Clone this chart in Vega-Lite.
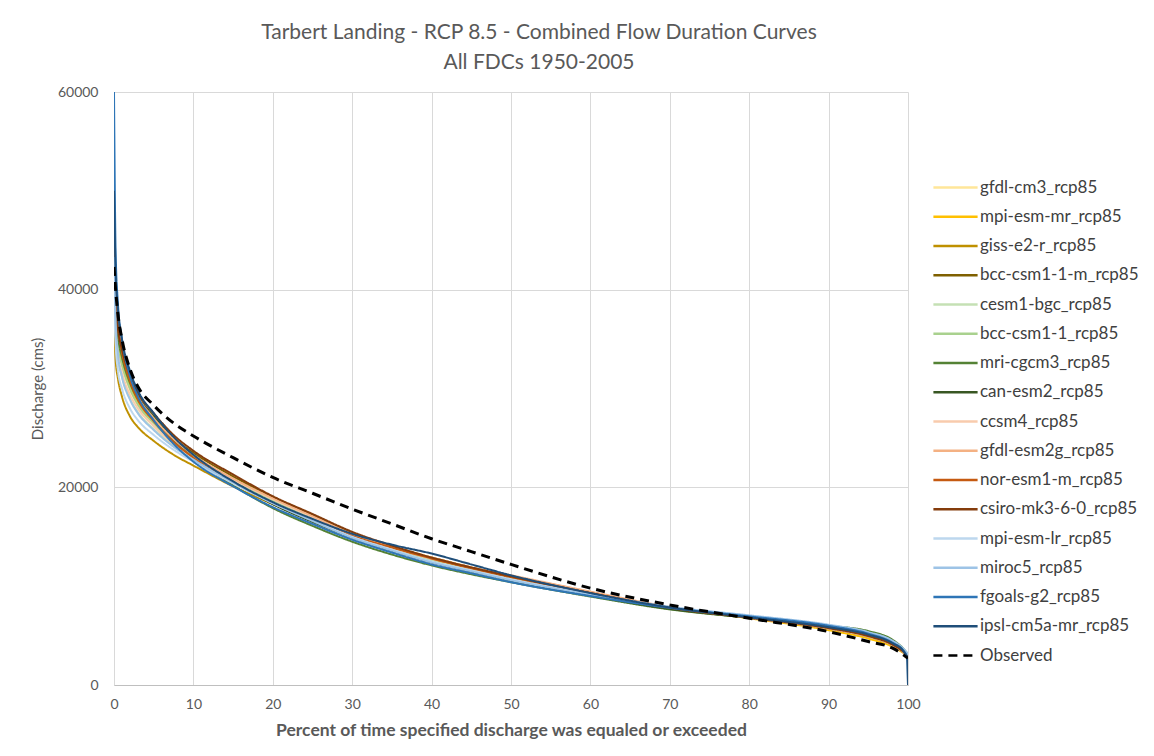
{
  "$schema": "https://vega.github.io/schema/vega-lite/v6.json",
  "autosize": "none",
  "padding": {"left": 114, "top": 92, "right": 246, "bottom": 71},
  "width": 794,
  "height": 593,
  "background": "white",
  "title": {
    "text": ["Tarbert Landing - RCP 8.5 - Combined Flow Duration Curves", "All FDCs 1950-2005"],
    "font": "Lato", "fontSize": 21, "fontWeight": "normal", "color": "#595959",
    "lineHeight": 30, "anchor": "middle", "dx": 28, "offset": 12
  },
  "datasets": {
    "fdc": [
{"s":"gfdl-cm3_rcp85","x":0,"y":40500},{"s":"gfdl-cm3_rcp85","x":0.2,"y":36500},{"s":"gfdl-cm3_rcp85","x":0.5,"y":34200},{"s":"gfdl-cm3_rcp85","x":1,"y":32300},{"s":"gfdl-cm3_rcp85","x":2,"y":29900},{"s":"gfdl-cm3_rcp85","x":3,"y":28300},{"s":"gfdl-cm3_rcp85","x":5,"y":26300},{"s":"gfdl-cm3_rcp85","x":7.5,"y":24400},{"s":"gfdl-cm3_rcp85","x":10,"y":22900},{"s":"gfdl-cm3_rcp85","x":15,"y":20600},{"s":"gfdl-cm3_rcp85","x":20,"y":18700},{"s":"gfdl-cm3_rcp85","x":25,"y":16900},{"s":"gfdl-cm3_rcp85","x":30,"y":15200},{"s":"gfdl-cm3_rcp85","x":35,"y":13900},{"s":"gfdl-cm3_rcp85","x":40,"y":12700},{"s":"gfdl-cm3_rcp85","x":45,"y":11800},{"s":"gfdl-cm3_rcp85","x":50,"y":10900},{"s":"gfdl-cm3_rcp85","x":60,"y":9250},{"s":"gfdl-cm3_rcp85","x":70,"y":7800},{"s":"gfdl-cm3_rcp85","x":80,"y":6850},{"s":"gfdl-cm3_rcp85","x":90,"y":5800},{"s":"gfdl-cm3_rcp85","x":95,"y":5000},{"s":"gfdl-cm3_rcp85","x":98,"y":4150},{"s":"gfdl-cm3_rcp85","x":99.5,"y":3350},{"s":"gfdl-cm3_rcp85","x":100,"y":2950},
{"s":"mpi-esm-mr_rcp85","x":0,"y":41500},{"s":"mpi-esm-mr_rcp85","x":0.2,"y":37000},{"s":"mpi-esm-mr_rcp85","x":0.5,"y":34800},{"s":"mpi-esm-mr_rcp85","x":1,"y":32800},{"s":"mpi-esm-mr_rcp85","x":2,"y":30300},{"s":"mpi-esm-mr_rcp85","x":3,"y":28600},{"s":"mpi-esm-mr_rcp85","x":5,"y":26600},{"s":"mpi-esm-mr_rcp85","x":7.5,"y":24600},{"s":"mpi-esm-mr_rcp85","x":10,"y":23100},{"s":"mpi-esm-mr_rcp85","x":15,"y":20800},{"s":"mpi-esm-mr_rcp85","x":20,"y":18800},{"s":"mpi-esm-mr_rcp85","x":25,"y":17000},{"s":"mpi-esm-mr_rcp85","x":30,"y":15300},{"s":"mpi-esm-mr_rcp85","x":35,"y":14000},{"s":"mpi-esm-mr_rcp85","x":40,"y":12900},{"s":"mpi-esm-mr_rcp85","x":45,"y":11900},{"s":"mpi-esm-mr_rcp85","x":50,"y":11000},{"s":"mpi-esm-mr_rcp85","x":60,"y":9300},{"s":"mpi-esm-mr_rcp85","x":70,"y":7800},{"s":"mpi-esm-mr_rcp85","x":80,"y":6750},{"s":"mpi-esm-mr_rcp85","x":90,"y":5550},{"s":"mpi-esm-mr_rcp85","x":95,"y":4700},{"s":"mpi-esm-mr_rcp85","x":98,"y":3900},{"s":"mpi-esm-mr_rcp85","x":99.5,"y":3200},{"s":"mpi-esm-mr_rcp85","x":100,"y":2900},
{"s":"giss-e2-r_rcp85","x":0,"y":37000},{"s":"giss-e2-r_rcp85","x":0.2,"y":33000},{"s":"giss-e2-r_rcp85","x":0.5,"y":31000},{"s":"giss-e2-r_rcp85","x":1,"y":29200},{"s":"giss-e2-r_rcp85","x":2,"y":27200},{"s":"giss-e2-r_rcp85","x":3,"y":26100},{"s":"giss-e2-r_rcp85","x":5,"y":24700},{"s":"giss-e2-r_rcp85","x":7.5,"y":23300},{"s":"giss-e2-r_rcp85","x":10,"y":22200},{"s":"giss-e2-r_rcp85","x":15,"y":20100},{"s":"giss-e2-r_rcp85","x":20,"y":18300},{"s":"giss-e2-r_rcp85","x":25,"y":16600},{"s":"giss-e2-r_rcp85","x":30,"y":15000},{"s":"giss-e2-r_rcp85","x":35,"y":13700},{"s":"giss-e2-r_rcp85","x":40,"y":12500},{"s":"giss-e2-r_rcp85","x":45,"y":11600},{"s":"giss-e2-r_rcp85","x":50,"y":10700},{"s":"giss-e2-r_rcp85","x":60,"y":9150},{"s":"giss-e2-r_rcp85","x":70,"y":7750},{"s":"giss-e2-r_rcp85","x":80,"y":6800},{"s":"giss-e2-r_rcp85","x":90,"y":5750},{"s":"giss-e2-r_rcp85","x":95,"y":4950},{"s":"giss-e2-r_rcp85","x":98,"y":4100},{"s":"giss-e2-r_rcp85","x":99.5,"y":3300},{"s":"giss-e2-r_rcp85","x":100,"y":2900},
{"s":"bcc-csm1-1-m_rcp85","x":0,"y":43000},{"s":"bcc-csm1-1-m_rcp85","x":0.2,"y":38500},{"s":"bcc-csm1-1-m_rcp85","x":0.5,"y":35800},{"s":"bcc-csm1-1-m_rcp85","x":1,"y":33600},{"s":"bcc-csm1-1-m_rcp85","x":2,"y":31000},{"s":"bcc-csm1-1-m_rcp85","x":3,"y":29200},{"s":"bcc-csm1-1-m_rcp85","x":5,"y":27100},{"s":"bcc-csm1-1-m_rcp85","x":7.5,"y":25000},{"s":"bcc-csm1-1-m_rcp85","x":10,"y":23500},{"s":"bcc-csm1-1-m_rcp85","x":15,"y":21100},{"s":"bcc-csm1-1-m_rcp85","x":20,"y":19000},{"s":"bcc-csm1-1-m_rcp85","x":25,"y":17200},{"s":"bcc-csm1-1-m_rcp85","x":30,"y":15400},{"s":"bcc-csm1-1-m_rcp85","x":35,"y":14000},{"s":"bcc-csm1-1-m_rcp85","x":40,"y":12800},{"s":"bcc-csm1-1-m_rcp85","x":45,"y":11800},{"s":"bcc-csm1-1-m_rcp85","x":50,"y":10900},{"s":"bcc-csm1-1-m_rcp85","x":60,"y":9250},{"s":"bcc-csm1-1-m_rcp85","x":70,"y":7800},{"s":"bcc-csm1-1-m_rcp85","x":80,"y":6800},{"s":"bcc-csm1-1-m_rcp85","x":90,"y":5700},{"s":"bcc-csm1-1-m_rcp85","x":95,"y":4900},{"s":"bcc-csm1-1-m_rcp85","x":98,"y":4050},{"s":"bcc-csm1-1-m_rcp85","x":99.5,"y":3250},{"s":"bcc-csm1-1-m_rcp85","x":100,"y":2900},
{"s":"cesm1-bgc_rcp85","x":0,"y":39500},{"s":"cesm1-bgc_rcp85","x":0.2,"y":35500},{"s":"cesm1-bgc_rcp85","x":0.5,"y":33000},{"s":"cesm1-bgc_rcp85","x":1,"y":31200},{"s":"cesm1-bgc_rcp85","x":2,"y":29000},{"s":"cesm1-bgc_rcp85","x":3,"y":27600},{"s":"cesm1-bgc_rcp85","x":5,"y":25900},{"s":"cesm1-bgc_rcp85","x":7.5,"y":24200},{"s":"cesm1-bgc_rcp85","x":10,"y":22900},{"s":"cesm1-bgc_rcp85","x":15,"y":20700},{"s":"cesm1-bgc_rcp85","x":20,"y":18700},{"s":"cesm1-bgc_rcp85","x":25,"y":16900},{"s":"cesm1-bgc_rcp85","x":30,"y":15100},{"s":"cesm1-bgc_rcp85","x":35,"y":13800},{"s":"cesm1-bgc_rcp85","x":40,"y":12600},{"s":"cesm1-bgc_rcp85","x":45,"y":11600},{"s":"cesm1-bgc_rcp85","x":50,"y":10700},{"s":"cesm1-bgc_rcp85","x":60,"y":9150},{"s":"cesm1-bgc_rcp85","x":70,"y":7800},{"s":"cesm1-bgc_rcp85","x":80,"y":6850},{"s":"cesm1-bgc_rcp85","x":90,"y":5900},{"s":"cesm1-bgc_rcp85","x":95,"y":5150},{"s":"cesm1-bgc_rcp85","x":98,"y":4300},{"s":"cesm1-bgc_rcp85","x":99.5,"y":3400},{"s":"cesm1-bgc_rcp85","x":100,"y":3000},
{"s":"bcc-csm1-1_rcp85","x":0,"y":41000},{"s":"bcc-csm1-1_rcp85","x":0.2,"y":36800},{"s":"bcc-csm1-1_rcp85","x":0.5,"y":34300},{"s":"bcc-csm1-1_rcp85","x":1,"y":32400},{"s":"bcc-csm1-1_rcp85","x":2,"y":30000},{"s":"bcc-csm1-1_rcp85","x":3,"y":28400},{"s":"bcc-csm1-1_rcp85","x":5,"y":26500},{"s":"bcc-csm1-1_rcp85","x":7.5,"y":24600},{"s":"bcc-csm1-1_rcp85","x":10,"y":23100},{"s":"bcc-csm1-1_rcp85","x":15,"y":20700},{"s":"bcc-csm1-1_rcp85","x":20,"y":18600},{"s":"bcc-csm1-1_rcp85","x":25,"y":16800},{"s":"bcc-csm1-1_rcp85","x":30,"y":15000},{"s":"bcc-csm1-1_rcp85","x":35,"y":13700},{"s":"bcc-csm1-1_rcp85","x":40,"y":12500},{"s":"bcc-csm1-1_rcp85","x":45,"y":11500},{"s":"bcc-csm1-1_rcp85","x":50,"y":10600},{"s":"bcc-csm1-1_rcp85","x":60,"y":9100},{"s":"bcc-csm1-1_rcp85","x":70,"y":7750},{"s":"bcc-csm1-1_rcp85","x":80,"y":6850},{"s":"bcc-csm1-1_rcp85","x":90,"y":5900},{"s":"bcc-csm1-1_rcp85","x":95,"y":5200},{"s":"bcc-csm1-1_rcp85","x":98,"y":4350},{"s":"bcc-csm1-1_rcp85","x":99.5,"y":3450},{"s":"bcc-csm1-1_rcp85","x":100,"y":3000},
{"s":"mri-cgcm3_rcp85","x":0,"y":42500},{"s":"mri-cgcm3_rcp85","x":0.2,"y":38000},{"s":"mri-cgcm3_rcp85","x":0.5,"y":35300},{"s":"mri-cgcm3_rcp85","x":1,"y":33200},{"s":"mri-cgcm3_rcp85","x":2,"y":30600},{"s":"mri-cgcm3_rcp85","x":3,"y":28900},{"s":"mri-cgcm3_rcp85","x":5,"y":26900},{"s":"mri-cgcm3_rcp85","x":7.5,"y":24700},{"s":"mri-cgcm3_rcp85","x":10,"y":23000},{"s":"mri-cgcm3_rcp85","x":15,"y":20200},{"s":"mri-cgcm3_rcp85","x":20,"y":17900},{"s":"mri-cgcm3_rcp85","x":25,"y":16100},{"s":"mri-cgcm3_rcp85","x":30,"y":14500},{"s":"mri-cgcm3_rcp85","x":35,"y":13200},{"s":"mri-cgcm3_rcp85","x":40,"y":12100},{"s":"mri-cgcm3_rcp85","x":45,"y":11200},{"s":"mri-cgcm3_rcp85","x":50,"y":10400},{"s":"mri-cgcm3_rcp85","x":60,"y":8950},{"s":"mri-cgcm3_rcp85","x":70,"y":7650},{"s":"mri-cgcm3_rcp85","x":80,"y":6800},{"s":"mri-cgcm3_rcp85","x":90,"y":6000},{"s":"mri-cgcm3_rcp85","x":95,"y":5450},{"s":"mri-cgcm3_rcp85","x":98,"y":4600},{"s":"mri-cgcm3_rcp85","x":99.5,"y":3600},{"s":"mri-cgcm3_rcp85","x":100,"y":3100},
{"s":"can-esm2_rcp85","x":0,"y":43500},{"s":"can-esm2_rcp85","x":0.2,"y":38800},{"s":"can-esm2_rcp85","x":0.5,"y":36000},{"s":"can-esm2_rcp85","x":1,"y":33800},{"s":"can-esm2_rcp85","x":2,"y":31100},{"s":"can-esm2_rcp85","x":3,"y":29300},{"s":"can-esm2_rcp85","x":5,"y":27200},{"s":"can-esm2_rcp85","x":7.5,"y":25000},{"s":"can-esm2_rcp85","x":10,"y":23300},{"s":"can-esm2_rcp85","x":15,"y":20600},{"s":"can-esm2_rcp85","x":20,"y":18300},{"s":"can-esm2_rcp85","x":25,"y":16500},{"s":"can-esm2_rcp85","x":30,"y":14900},{"s":"can-esm2_rcp85","x":35,"y":13600},{"s":"can-esm2_rcp85","x":40,"y":12400},{"s":"can-esm2_rcp85","x":45,"y":11500},{"s":"can-esm2_rcp85","x":50,"y":10600},{"s":"can-esm2_rcp85","x":60,"y":9050},{"s":"can-esm2_rcp85","x":70,"y":7700},{"s":"can-esm2_rcp85","x":80,"y":6800},{"s":"can-esm2_rcp85","x":90,"y":5900},{"s":"can-esm2_rcp85","x":95,"y":5250},{"s":"can-esm2_rcp85","x":98,"y":4400},{"s":"can-esm2_rcp85","x":99.5,"y":3500},{"s":"can-esm2_rcp85","x":100,"y":3050},
{"s":"ccsm4_rcp85","x":0,"y":40000},{"s":"ccsm4_rcp85","x":0.2,"y":35800},{"s":"ccsm4_rcp85","x":0.5,"y":33400},{"s":"ccsm4_rcp85","x":1,"y":31600},{"s":"ccsm4_rcp85","x":2,"y":29400},{"s":"ccsm4_rcp85","x":3,"y":28000},{"s":"ccsm4_rcp85","x":5,"y":26200},{"s":"ccsm4_rcp85","x":7.5,"y":24400},{"s":"ccsm4_rcp85","x":10,"y":23000},{"s":"ccsm4_rcp85","x":15,"y":20800},{"s":"ccsm4_rcp85","x":20,"y":18800},{"s":"ccsm4_rcp85","x":25,"y":17000},{"s":"ccsm4_rcp85","x":30,"y":15200},{"s":"ccsm4_rcp85","x":35,"y":13900},{"s":"ccsm4_rcp85","x":40,"y":12800},{"s":"ccsm4_rcp85","x":45,"y":11900},{"s":"ccsm4_rcp85","x":50,"y":11000},{"s":"ccsm4_rcp85","x":60,"y":9350},{"s":"ccsm4_rcp85","x":70,"y":7850},{"s":"ccsm4_rcp85","x":80,"y":6800},{"s":"ccsm4_rcp85","x":90,"y":5700},{"s":"ccsm4_rcp85","x":95,"y":4900},{"s":"ccsm4_rcp85","x":98,"y":4050},{"s":"ccsm4_rcp85","x":99.5,"y":3250},{"s":"ccsm4_rcp85","x":100,"y":2850},
{"s":"gfdl-esm2g_rcp85","x":0,"y":45000},{"s":"gfdl-esm2g_rcp85","x":0.2,"y":39500},{"s":"gfdl-esm2g_rcp85","x":0.5,"y":36300},{"s":"gfdl-esm2g_rcp85","x":1,"y":33900},{"s":"gfdl-esm2g_rcp85","x":2,"y":31000},{"s":"gfdl-esm2g_rcp85","x":3,"y":29200},{"s":"gfdl-esm2g_rcp85","x":5,"y":27000},{"s":"gfdl-esm2g_rcp85","x":7.5,"y":24900},{"s":"gfdl-esm2g_rcp85","x":10,"y":23300},{"s":"gfdl-esm2g_rcp85","x":15,"y":20900},{"s":"gfdl-esm2g_rcp85","x":20,"y":18900},{"s":"gfdl-esm2g_rcp85","x":25,"y":17100},{"s":"gfdl-esm2g_rcp85","x":30,"y":15300},{"s":"gfdl-esm2g_rcp85","x":35,"y":14000},{"s":"gfdl-esm2g_rcp85","x":40,"y":12900},{"s":"gfdl-esm2g_rcp85","x":45,"y":11900},{"s":"gfdl-esm2g_rcp85","x":50,"y":11100},{"s":"gfdl-esm2g_rcp85","x":60,"y":9450},{"s":"gfdl-esm2g_rcp85","x":70,"y":7900},{"s":"gfdl-esm2g_rcp85","x":80,"y":6850},{"s":"gfdl-esm2g_rcp85","x":90,"y":5750},{"s":"gfdl-esm2g_rcp85","x":95,"y":4950},{"s":"gfdl-esm2g_rcp85","x":98,"y":4100},{"s":"gfdl-esm2g_rcp85","x":99.5,"y":3300},{"s":"gfdl-esm2g_rcp85","x":100,"y":2900},
{"s":"nor-esm1-m_rcp85","x":0,"y":46000},{"s":"nor-esm1-m_rcp85","x":0.2,"y":40000},{"s":"nor-esm1-m_rcp85","x":0.5,"y":36500},{"s":"nor-esm1-m_rcp85","x":1,"y":33800},{"s":"nor-esm1-m_rcp85","x":2,"y":30800},{"s":"nor-esm1-m_rcp85","x":3,"y":28900},{"s":"nor-esm1-m_rcp85","x":5,"y":26700},{"s":"nor-esm1-m_rcp85","x":7.5,"y":24600},{"s":"nor-esm1-m_rcp85","x":10,"y":23000},{"s":"nor-esm1-m_rcp85","x":15,"y":20500},{"s":"nor-esm1-m_rcp85","x":20,"y":18400},{"s":"nor-esm1-m_rcp85","x":25,"y":16700},{"s":"nor-esm1-m_rcp85","x":30,"y":15100},{"s":"nor-esm1-m_rcp85","x":35,"y":13900},{"s":"nor-esm1-m_rcp85","x":40,"y":12800},{"s":"nor-esm1-m_rcp85","x":45,"y":11800},{"s":"nor-esm1-m_rcp85","x":50,"y":10900},{"s":"nor-esm1-m_rcp85","x":60,"y":9300},{"s":"nor-esm1-m_rcp85","x":70,"y":7850},{"s":"nor-esm1-m_rcp85","x":80,"y":6900},{"s":"nor-esm1-m_rcp85","x":90,"y":5950},{"s":"nor-esm1-m_rcp85","x":95,"y":5150},{"s":"nor-esm1-m_rcp85","x":98,"y":4250},{"s":"nor-esm1-m_rcp85","x":99.5,"y":3350},{"s":"nor-esm1-m_rcp85","x":100,"y":2950},
{"s":"csiro-mk3-6-0_rcp85","x":0,"y":43000},{"s":"csiro-mk3-6-0_rcp85","x":0.2,"y":38600},{"s":"csiro-mk3-6-0_rcp85","x":0.5,"y":36000},{"s":"csiro-mk3-6-0_rcp85","x":1,"y":34000},{"s":"csiro-mk3-6-0_rcp85","x":2,"y":31400},{"s":"csiro-mk3-6-0_rcp85","x":3,"y":29600},{"s":"csiro-mk3-6-0_rcp85","x":5,"y":27500},{"s":"csiro-mk3-6-0_rcp85","x":7.5,"y":25300},{"s":"csiro-mk3-6-0_rcp85","x":10,"y":23700},{"s":"csiro-mk3-6-0_rcp85","x":15,"y":21300},{"s":"csiro-mk3-6-0_rcp85","x":20,"y":19100},{"s":"csiro-mk3-6-0_rcp85","x":25,"y":17300},{"s":"csiro-mk3-6-0_rcp85","x":30,"y":15500},{"s":"csiro-mk3-6-0_rcp85","x":35,"y":14100},{"s":"csiro-mk3-6-0_rcp85","x":40,"y":12900},{"s":"csiro-mk3-6-0_rcp85","x":45,"y":11900},{"s":"csiro-mk3-6-0_rcp85","x":50,"y":11000},{"s":"csiro-mk3-6-0_rcp85","x":60,"y":9300},{"s":"csiro-mk3-6-0_rcp85","x":70,"y":7800},{"s":"csiro-mk3-6-0_rcp85","x":80,"y":6800},{"s":"csiro-mk3-6-0_rcp85","x":90,"y":5750},{"s":"csiro-mk3-6-0_rcp85","x":95,"y":4950},{"s":"csiro-mk3-6-0_rcp85","x":98,"y":4100},{"s":"csiro-mk3-6-0_rcp85","x":99.5,"y":3300},{"s":"csiro-mk3-6-0_rcp85","x":100,"y":2900},
{"s":"mpi-esm-lr_rcp85","x":0,"y":40000},{"s":"mpi-esm-lr_rcp85","x":0.2,"y":34500},{"s":"mpi-esm-lr_rcp85","x":0.5,"y":31800},{"s":"mpi-esm-lr_rcp85","x":1,"y":30000},{"s":"mpi-esm-lr_rcp85","x":2,"y":28000},{"s":"mpi-esm-lr_rcp85","x":3,"y":26800},{"s":"mpi-esm-lr_rcp85","x":5,"y":25300},{"s":"mpi-esm-lr_rcp85","x":7.5,"y":23800},{"s":"mpi-esm-lr_rcp85","x":10,"y":22600},{"s":"mpi-esm-lr_rcp85","x":15,"y":20400},{"s":"mpi-esm-lr_rcp85","x":20,"y":18400},{"s":"mpi-esm-lr_rcp85","x":25,"y":16700},{"s":"mpi-esm-lr_rcp85","x":30,"y":15000},{"s":"mpi-esm-lr_rcp85","x":35,"y":13700},{"s":"mpi-esm-lr_rcp85","x":40,"y":12500},{"s":"mpi-esm-lr_rcp85","x":45,"y":11600},{"s":"mpi-esm-lr_rcp85","x":50,"y":10700},{"s":"mpi-esm-lr_rcp85","x":60,"y":9200},{"s":"mpi-esm-lr_rcp85","x":70,"y":7900},{"s":"mpi-esm-lr_rcp85","x":80,"y":7000},{"s":"mpi-esm-lr_rcp85","x":90,"y":6050},{"s":"mpi-esm-lr_rcp85","x":95,"y":5300},{"s":"mpi-esm-lr_rcp85","x":98,"y":4450},{"s":"mpi-esm-lr_rcp85","x":99.5,"y":3550},{"s":"mpi-esm-lr_rcp85","x":100,"y":3100},
{"s":"miroc5_rcp85","x":0,"y":43300},{"s":"miroc5_rcp85","x":0.2,"y":37000},{"s":"miroc5_rcp85","x":0.5,"y":33500},{"s":"miroc5_rcp85","x":1,"y":31200},{"s":"miroc5_rcp85","x":2,"y":28900},{"s":"miroc5_rcp85","x":3,"y":27500},{"s":"miroc5_rcp85","x":5,"y":25800},{"s":"miroc5_rcp85","x":7.5,"y":24100},{"s":"miroc5_rcp85","x":10,"y":22800},{"s":"miroc5_rcp85","x":15,"y":20500},{"s":"miroc5_rcp85","x":20,"y":18400},{"s":"miroc5_rcp85","x":25,"y":16600},{"s":"miroc5_rcp85","x":30,"y":14900},{"s":"miroc5_rcp85","x":35,"y":13600},{"s":"miroc5_rcp85","x":40,"y":12400},{"s":"miroc5_rcp85","x":45,"y":11500},{"s":"miroc5_rcp85","x":50,"y":10600},{"s":"miroc5_rcp85","x":60,"y":9150},{"s":"miroc5_rcp85","x":70,"y":7900},{"s":"miroc5_rcp85","x":80,"y":7050},{"s":"miroc5_rcp85","x":90,"y":6100},{"s":"miroc5_rcp85","x":95,"y":5350},{"s":"miroc5_rcp85","x":98,"y":4500},{"s":"miroc5_rcp85","x":99.5,"y":3600},{"s":"miroc5_rcp85","x":100,"y":3100},
{"s":"fgoals-g2_rcp85","x":0,"y":60000},{"s":"fgoals-g2_rcp85","x":0.2,"y":44000},{"s":"fgoals-g2_rcp85","x":0.5,"y":38500},{"s":"fgoals-g2_rcp85","x":1,"y":35000},{"s":"fgoals-g2_rcp85","x":2,"y":31300},{"s":"fgoals-g2_rcp85","x":3,"y":29200},{"s":"fgoals-g2_rcp85","x":5,"y":26800},{"s":"fgoals-g2_rcp85","x":7.5,"y":24400},{"s":"fgoals-g2_rcp85","x":10,"y":22600},{"s":"fgoals-g2_rcp85","x":15,"y":20100},{"s":"fgoals-g2_rcp85","x":20,"y":18000},{"s":"fgoals-g2_rcp85","x":25,"y":16300},{"s":"fgoals-g2_rcp85","x":30,"y":14700},{"s":"fgoals-g2_rcp85","x":35,"y":13400},{"s":"fgoals-g2_rcp85","x":40,"y":12200},{"s":"fgoals-g2_rcp85","x":45,"y":11300},{"s":"fgoals-g2_rcp85","x":50,"y":10400},{"s":"fgoals-g2_rcp85","x":60,"y":9000},{"s":"fgoals-g2_rcp85","x":70,"y":7800},{"s":"fgoals-g2_rcp85","x":80,"y":6950},{"s":"fgoals-g2_rcp85","x":90,"y":6000},{"s":"fgoals-g2_rcp85","x":95,"y":5200},{"s":"fgoals-g2_rcp85","x":98,"y":4300},{"s":"fgoals-g2_rcp85","x":99.5,"y":3400},{"s":"fgoals-g2_rcp85","x":99.9,"y":2700},{"s":"fgoals-g2_rcp85","x":100,"y":0},
{"s":"ipsl-cm5a-mr_rcp85","x":0,"y":50000},{"s":"ipsl-cm5a-mr_rcp85","x":0.2,"y":42000},{"s":"ipsl-cm5a-mr_rcp85","x":0.5,"y":38000},{"s":"ipsl-cm5a-mr_rcp85","x":1,"y":35000},{"s":"ipsl-cm5a-mr_rcp85","x":2,"y":31800},{"s":"ipsl-cm5a-mr_rcp85","x":3,"y":29800},{"s":"ipsl-cm5a-mr_rcp85","x":5,"y":27500},{"s":"ipsl-cm5a-mr_rcp85","x":7.5,"y":25100},{"s":"ipsl-cm5a-mr_rcp85","x":10,"y":23300},{"s":"ipsl-cm5a-mr_rcp85","x":15,"y":20600},{"s":"ipsl-cm5a-mr_rcp85","x":20,"y":18500},{"s":"ipsl-cm5a-mr_rcp85","x":25,"y":16800},{"s":"ipsl-cm5a-mr_rcp85","x":30,"y":15300},{"s":"ipsl-cm5a-mr_rcp85","x":35,"y":14200},{"s":"ipsl-cm5a-mr_rcp85","x":40,"y":13300},{"s":"ipsl-cm5a-mr_rcp85","x":45,"y":12200},{"s":"ipsl-cm5a-mr_rcp85","x":50,"y":11100},{"s":"ipsl-cm5a-mr_rcp85","x":60,"y":9300},{"s":"ipsl-cm5a-mr_rcp85","x":70,"y":7850},{"s":"ipsl-cm5a-mr_rcp85","x":80,"y":6850},{"s":"ipsl-cm5a-mr_rcp85","x":90,"y":5850},{"s":"ipsl-cm5a-mr_rcp85","x":95,"y":5100},{"s":"ipsl-cm5a-mr_rcp85","x":98,"y":4250},{"s":"ipsl-cm5a-mr_rcp85","x":99.5,"y":3350},{"s":"ipsl-cm5a-mr_rcp85","x":99.9,"y":2700},{"s":"ipsl-cm5a-mr_rcp85","x":100,"y":0},
{"s":"Observed","x":0,"y":42300},{"s":"Observed","x":0.2,"y":40000},{"s":"Observed","x":0.5,"y":37500},{"s":"Observed","x":1,"y":35000},{"s":"Observed","x":2,"y":32000},{"s":"Observed","x":3,"y":30200},{"s":"Observed","x":5,"y":28300},{"s":"Observed","x":7.5,"y":26500},{"s":"Observed","x":10,"y":25200},{"s":"Observed","x":15,"y":23000},{"s":"Observed","x":20,"y":21000},{"s":"Observed","x":25,"y":19400},{"s":"Observed","x":30,"y":17800},{"s":"Observed","x":35,"y":16300},{"s":"Observed","x":40,"y":14800},{"s":"Observed","x":45,"y":13500},{"s":"Observed","x":50,"y":12200},{"s":"Observed","x":60,"y":9800},{"s":"Observed","x":70,"y":8100},{"s":"Observed","x":80,"y":6750},{"s":"Observed","x":90,"y":5400},{"s":"Observed","x":95,"y":4400},{"s":"Observed","x":98,"y":3750},{"s":"Observed","x":99.5,"y":3000},{"s":"Observed","x":100,"y":2700}
    ]
  },
  "data": {"name": "fdc"},
  "encoding": {
    "x": {
      "field": "x", "type": "quantitative",
      "scale": {"domain": [0, 100], "nice": false, "zero": true},
      "axis": {
        "title": "Percent of time specified discharge was equaled or exceeded",
        "values": [0,10,20,30,40,50,60,70,80,90,100],
        "titleFont": "Lato", "titleFontSize": 17.5, "titleFontWeight": "bold", "titleColor": "#595959",
        "titlePadding": 10,
        "labelFont": "Lato", "labelFontSize": 14, "labelColor": "#595959", "labelPadding": 12, "labelFlush": false,
        "ticks": false, "domainColor": "#BFBFBF", "domainWidth": 1,
        "gridColor": "#D9D9D9", "gridWidth": 1
      }
    },
    "y": {
      "field": "y", "type": "quantitative",
      "scale": {"domain": [0, 60000], "nice": false},
      "axis": {
        "title": "Discharge (cms)",
        "values": [0, 20000, 40000, 60000],
        "format": "d",
        "titleFont": "Lato", "titleFontSize": 15, "titleFontWeight": "normal", "titleColor": "#595959",
        "titlePadding": 12,
        "labelFont": "Lato", "labelFontSize": 14, "labelColor": "#595959", "labelPadding": 16,
        "ticks": false, "domain": false,
        "gridColor": "#D9D9D9", "gridWidth": 1
      }
    },
    "color": {
      "field": "s", "type": "nominal",
      "scale": {
        "domain": ["gfdl-cm3_rcp85","mpi-esm-mr_rcp85","giss-e2-r_rcp85","bcc-csm1-1-m_rcp85","cesm1-bgc_rcp85","bcc-csm1-1_rcp85","mri-cgcm3_rcp85","can-esm2_rcp85","ccsm4_rcp85","gfdl-esm2g_rcp85","nor-esm1-m_rcp85","csiro-mk3-6-0_rcp85","mpi-esm-lr_rcp85","miroc5_rcp85","fgoals-g2_rcp85","ipsl-cm5a-mr_rcp85","Observed"],
        "range": ["#FFE699","#FFC000","#BF9000","#7F6000","#C5E0B4","#A9D18E","#548235","#385723","#F8CBAD","#F4B183","#C55A11","#843C0C","#BDD7EE","#9DC3E6","#2E75B6","#1F4E79","#000000"]
      },
      "legend": {
        "title": null, "orient": "none", "legendX": 827, "legendY": 81,
        "symbolType": "M-1.7,0H1.7", "symbolSize": 676, "symbolStrokeWidth": 2.5,
        "labelFont": "Lato", "labelFontSize": 17, "labelColor": "#404040", "labelOffset": 10, "labelLimit": 300,
        "rowPadding": 6.25, "padding": 0
      }
    },
    "strokeDash": {
      "field": "s", "type": "nominal",
      "scale": {
        "domain": ["gfdl-cm3_rcp85","mpi-esm-mr_rcp85","giss-e2-r_rcp85","bcc-csm1-1-m_rcp85","cesm1-bgc_rcp85","bcc-csm1-1_rcp85","mri-cgcm3_rcp85","can-esm2_rcp85","ccsm4_rcp85","gfdl-esm2g_rcp85","nor-esm1-m_rcp85","csiro-mk3-6-0_rcp85","mpi-esm-lr_rcp85","miroc5_rcp85","fgoals-g2_rcp85","ipsl-cm5a-mr_rcp85","Observed"],
        "range": [[1,0],[1,0],[1,0],[1,0],[1,0],[1,0],[1,0],[1,0],[1,0],[1,0],[1,0],[1,0],[1,0],[1,0],[1,0],[1,0],[9,6]]
      },
      "legend": {
        "title": null, "orient": "none", "legendX": 827, "legendY": 81,
        "symbolType": "M-1.7,0H1.7", "symbolSize": 676, "symbolStrokeWidth": 2.5,
        "labelFont": "Lato", "labelFontSize": 17, "labelColor": "#404040", "labelOffset": 10, "labelLimit": 300,
        "rowPadding": 6.25, "padding": 0
      }
    }
  },
  "layer": [
    {
      "transform": [{"filter": "datum.s !== 'Observed'"}],
      "mark": {"type": "line", "interpolate": "monotone", "strokeWidth": 2, "clip": true}
    },
    {
      "transform": [{"filter": "datum.s === 'Observed'"}],
      "mark": {"type": "line", "interpolate": "monotone", "strokeWidth": 3, "clip": true}
    }
  ],
  "config": {
    "view": {"stroke": null},
    "font": "Lato"
  }
}
